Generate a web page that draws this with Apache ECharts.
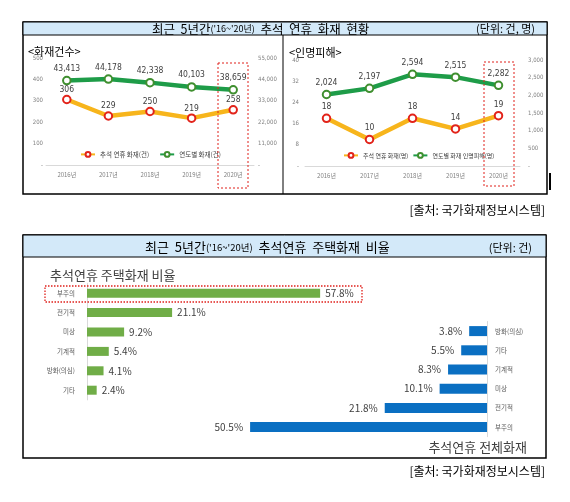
<!DOCTYPE html>
<html>
<head>
<meta charset="utf-8">
<script src="https://cdn.jsdelivr.net/npm/echarts@6/dist/echarts.min.js"></script>
<style>
html,body{margin:0;padding:0;background:#fff;}
#main{width:570px;height:502px;}
</style>
</head>
<body>
<div id="main"></div>
<script>
// ---- data ----
const years = ['2016년', '2017년', '2018년', '2019년', '2020년'];
const fireChuseok = [306, 229, 250, 219, 258];          // 추석 연휴 화재(건)
const fireYearly = [43413, 44178, 42338, 40103, 38659]; // 연도별 화재(건)
const casualtyChuseok = [18, 10, 18, 14, 19];           // 추석 연휴 화재(명)
const casualtyYearly = [2024, 2197, 2594, 2515, 2282];  // 연도별 화재 인명피해(명)
const houseCauses = ['부주의', '전기적', '미상', '기계적', '방화(의심)', '기타'];
const houseShare = [57.8, 21.1, 9.2, 5.4, 4.1, 2.4];
const allCauses = ['방화(의심)', '기타', '기계적', '미상', '전기적', '부주의'];
const allShare = [3.8, 5.5, 8.3, 10.1, 21.8, 50.5];
// axis ranges [min, max, interval]
const fireLeftAxis = [0, 500, 100];
const fireRightAxis = [0, 55000, 11000];
const casLeftAxis = [0, 40, 8];
const casRightAxis = [0, 3000, 500];

const KR = "'Noto Sans CJK KR', 'Noto Sans', sans-serif";
const NARROW = "'Liberation Sans Narrow', 'DejaVu Sans Condensed', 'Liberation Sans', sans-serif";
const ORANGE = '#f7b51c';
const GREEN = '#1e9c48';
const comma = v => String(v).replace(/\B(?=(\d{3})+(?!\d))/g, ',');
const dashZero = v => v === 0 ? '-' : comma(v);

const chart = echarts.init(document.getElementById('main'));

function lineSeries(name, data, xi, yi, color, border, dist) {
  return {
    type: 'line', name, data, xAxisIndex: xi, yAxisIndex: yi,
    symbol: 'circle', symbolSize: 7.5,
    lineStyle: { color, width: 4.5 },
    itemStyle: { color: '#fff', borderColor: border, borderWidth: 2 },
    label: { show: true, position: 'top', distance: dist, color: '#404040', fontSize: 8.5, fontFamily: NARROW, formatter: p => comma(p.value) },
    emphasis: { disabled: true }
  };
}
function catX(grid) {
  return {
    type: 'category', gridIndex: grid, data: years,
    axisLine: { lineStyle: { color: '#d9d9d9' } }, axisTick: { show: false },
    axisLabel: { fontSize: 6, color: '#808080', margin: 7, fontFamily: KR },
    splitLine: { show: false }
  };
}
function valY(grid, r, pos, margin) {
  return {
    type: 'value', gridIndex: grid, position: pos, min: r[0], max: r[1], interval: r[2],
    axisLine: { show: false }, axisTick: { show: false }, splitLine: { show: false },
    axisLabel: { fontSize: 6, color: '#808080', margin, formatter: dashZero, fontFamily: NARROW }
  };
}

const option = {
  backgroundColor: '#fff',
  animation: false,
  grid: [
    { left: 46, top: 58, width: 208, height: 107 },
    { left: 305, top: 60, width: 215, height: 106 },
    { left: 87, top: 283.5, width: 242, height: 116.4 },
    { left: 229, top: 321.5, width: 258, height: 115.2 }
  ],
  legend: [
    { data: ['추석 연휴 화재(건)', '연도별 화재(건)'], left: 80, top: 151, itemWidth: 14, itemHeight: 6, itemGap: 10, padding: 0,
      textStyle: { fontSize: 6.5, color: '#404040', fontFamily: KR } },
    { data: ['추석 연휴 화재(명)', '연도별 화재 인명피해(명)'], left: 343, top: 152, itemWidth: 14, itemHeight: 6, itemGap: 4, padding: 0,
      textStyle: { fontSize: 6, color: '#404040', fontFamily: KR } }
  ],
  xAxis: [
    catX(0), catX(1),
    { type: 'value', gridIndex: 2, min: 0, max: 60, show: false },
    { type: 'value', gridIndex: 3, min: 0, max: 55, inverse: true, show: false }
  ],
  yAxis: [
    valY(0, fireLeftAxis, 'left', 3),
    valY(0, fireRightAxis, 'right', 4),
    valY(1, casLeftAxis, 'left', 6),
    valY(1, casRightAxis, 'right', 8),
    { type: 'category', gridIndex: 2, data: houseCauses, inverse: true,
      axisLine: { lineStyle: { color: '#d9d9d9' } }, axisTick: { show: false },
      axisLabel: { fontSize: 6.5, color: '#595959', margin: 12, fontFamily: KR } },
    { type: 'category', gridIndex: 3, data: allCauses, inverse: true, position: 'right',
      axisLine: { onZero: false, lineStyle: { color: '#d9d9d9' } }, axisTick: { show: false },
      axisLabel: { fontSize: 6.5, color: '#595959', margin: 8, fontFamily: KR } }
  ],
  series: [
    lineSeries('추석 연휴 화재(건)', fireChuseok, 0, 0, ORANGE, '#e2231a', 0.5),
    lineSeries('연도별 화재(건)', fireYearly, 0, 1, GREEN, '#3f8f2f', 2.5),
    lineSeries('추석 연휴 화재(명)', casualtyChuseok, 1, 2, ORANGE, '#e2231a', 2),
    lineSeries('연도별 화재 인명피해(명)', casualtyYearly, 1, 3, GREEN, '#3f8f2f', 2),
    { type: 'bar', xAxisIndex: 2, yAxisIndex: 4, data: houseShare, barWidth: 9,
      itemStyle: { color: '#70ad47' },
      label: { show: true, position: 'right', distance: 5, color: '#404040', fontSize: 10, fontFamily: KR, formatter: p => p.value.toFixed(1) + '%' } },
    { type: 'bar', xAxisIndex: 3, yAxisIndex: 5, data: allShare, barWidth: 10,
      itemStyle: { color: '#0a6fc2' },
      label: { show: true, position: 'left', distance: 7, color: '#404040', fontSize: 10, fontFamily: KR, formatter: p => p.value.toFixed(1) + '%' } }
  ],
  graphic: [
    // top panel frame
    { type: 'rect', z: -10, shape: { x: 23, y: 22, width: 524, height: 172 }, style: { fill: '#fff', stroke: '#000', lineWidth: 1.5 } },
    { type: 'rect', z: -9, shape: { x: 23, y: 22, width: 524, height: 13 }, style: { fill: '#d3e9f9', stroke: '#000', lineWidth: 1 } },
    { type: 'line', z: -9, shape: { x1: 283, y1: 35, x2: 283, y2: 194 }, style: { stroke: '#000', lineWidth: 1 } },
    { type: 'text', z: 10, style: { x: 152, y: 29, verticalAlign: 'middle', align: 'left',
        text: '{a|최근  5년간}{b|(\'16~\'20년)}{a|  추석  연휴  화재  현황}',
        rich: { a: { fontSize: 12.5, fontFamily: KR, fill: '#000' }, b: { fontSize: 9, fontFamily: KR, fill: '#000' } } } },
    { type: 'text', z: 10, style: { x: 535, y: 29, align: 'right', verticalAlign: 'middle', text: '(단위: 건, 명)', fontSize: 11, fontFamily: KR, fill: '#000' } },
    { type: 'text', z: 10, style: { x: 28, y: 52, align: 'left', verticalAlign: 'middle', text: '<화재건수>', fontSize: 11, fontFamily: KR, fill: '#000' } },
    { type: 'text', z: 10, style: { x: 289, y: 53, align: 'left', verticalAlign: 'middle', text: '<인명피해>', fontSize: 11, fontFamily: KR, fill: '#000' } },
    { type: 'rect', z: 20, shape: { x: 218, y: 63, width: 30, height: 125 }, style: { fill: null, stroke: '#e0201b', lineWidth: 1, lineDash: [2, 2] } },
    { type: 'rect', z: 20, shape: { x: 484, y: 62, width: 30, height: 124 }, style: { fill: null, stroke: '#e0201b', lineWidth: 1, lineDash: [2, 2] } },
    { type: 'rect', z: 10, shape: { x: 549, y: 173, width: 2, height: 17 }, style: { fill: '#000' } },
    { type: 'text', z: 10, style: { x: 545, y: 210, align: 'right', verticalAlign: 'middle', text: '[출처: 국가화재정보시스템]', fontSize: 12, fontFamily: KR, fill: '#000' } },
    // bottom panel frame
    { type: 'rect', z: -10, shape: { x: 23, y: 235, width: 523, height: 223 }, style: { fill: '#fff', stroke: '#000', lineWidth: 1.5 } },
    { type: 'rect', z: -9, shape: { x: 23, y: 235, width: 523, height: 22 }, style: { fill: '#d3e9f9', stroke: '#000', lineWidth: 1 } },
    { type: 'text', z: 10, style: { x: 145, y: 247, verticalAlign: 'middle', align: 'left',
        text: '{a|최근  5년간}{b|(\'16~\'20년)}{a|  추석연휴  주택화재  비율}',
        rich: { a: { fontSize: 13, fontFamily: KR, fill: '#000' }, b: { fontSize: 9.5, fontFamily: KR, fill: '#000' } } } },
    { type: 'text', z: 10, style: { x: 532, y: 248, align: 'right', verticalAlign: 'middle', text: '(단위: 건)', fontSize: 11, fontFamily: KR, fill: '#000' } },
    { type: 'text', z: 10, style: { x: 50, y: 275, align: 'left', verticalAlign: 'middle', text: '추석연휴 주택화재 비율', fontSize: 13, fontFamily: KR, fill: '#404040' } },
    { type: 'text', z: 10, style: { x: 527, y: 447, align: 'right', verticalAlign: 'middle', text: '추석연휴 전체화재', fontSize: 13, fontFamily: KR, fill: '#404040' } },
    { type: 'rect', z: 20, shape: { x: 45, y: 286, width: 317, height: 16 }, style: { fill: null, stroke: '#e0201b', lineWidth: 1.3, lineDash: [1.5, 1.5] } },
    { type: 'text', z: 10, style: { x: 545, y: 471, align: 'right', verticalAlign: 'middle', text: '[출처: 국가화재정보시스템]', fontSize: 12, fontFamily: KR, fill: '#000' } }
  ]
};
chart.setOption(option);
</script>
</body>
</html>
